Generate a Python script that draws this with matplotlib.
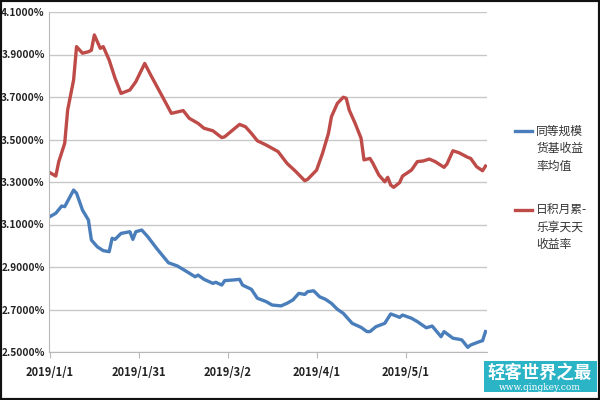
import numpy as np
import matplotlib
matplotlib.use("Agg")
import matplotlib.pyplot as plt
from matplotlib.patches import Rectangle

plt.rcParams['font.family'] = ['Noto Sans CJK SC', 'DejaVu Sans']

# ---- data (day offset from 2019-01-01, value in %) ----
red_days = [0, 2, 3, 5, 6, 8, 9, 11, 13, 14, 15, 17, 18, 20, 22, 24, 27, 29, 32, 34,
            38, 41, 45, 47, 50, 52, 55, 58, 59, 62, 64, 66, 68, 70, 73, 77, 80, 83, 86, 87,
            90, 92, 94, 95, 97, 99, 100, 101, 103, 105, 106, 108, 109, 111, 113, 114, 115, 116,
            118, 119, 122, 124, 126, 128, 130, 133, 134, 136, 138, 141, 142, 144, 146, 147]
red_vals = [3.344, 3.328, 3.396, 3.482, 3.639, 3.780, 3.937, 3.906, 3.913, 3.920, 3.992, 3.929,
            3.937, 3.874, 3.788, 3.717, 3.733, 3.772, 3.858, 3.804,
            3.701, 3.623, 3.636, 3.600, 3.576, 3.553, 3.541, 3.509, 3.513, 3.548, 3.571, 3.560,
            3.529, 3.494, 3.474, 3.443, 3.388, 3.349, 3.306, 3.313,
            3.356, 3.435, 3.529, 3.607, 3.670, 3.699, 3.694, 3.639, 3.576, 3.506, 3.404, 3.411,
            3.388, 3.333, 3.301, 3.322, 3.286, 3.275,
            3.297, 3.328, 3.356, 3.396, 3.399, 3.408, 3.396, 3.369, 3.385, 3.447, 3.438, 3.416,
            3.411, 3.372, 3.353, 3.375]

blue_days = [0, 2, 4, 5, 8, 9, 11, 13, 14, 16, 18, 20, 21, 22, 24, 27, 28, 29, 31, 33,
             36, 40, 43, 46, 49, 50, 52, 55, 56, 58, 59, 62, 64, 65, 68, 70, 73, 75, 78, 80,
             82, 84, 86, 87, 89, 91, 93, 95, 97, 99, 102, 105, 107, 108, 110, 113, 115, 117,
             118, 119, 122, 124, 127, 129, 132, 133, 136, 138, 139, 141, 142, 145, 146, 147]
blue_vals = [3.137, 3.153, 3.187, 3.184, 3.262, 3.247, 3.168, 3.121, 3.027, 2.995, 2.977, 2.972,
             3.035, 3.030, 3.058, 3.066, 3.030, 3.066, 3.074, 3.043,
             2.988, 2.920, 2.905, 2.880, 2.854, 2.862, 2.842, 2.823, 2.828, 2.815, 2.836, 2.839,
             2.842, 2.815, 2.795, 2.753, 2.737, 2.721, 2.717, 2.729,
             2.745, 2.776, 2.771, 2.784, 2.788, 2.760, 2.748, 2.729, 2.701, 2.682, 2.635, 2.616,
             2.596, 2.596, 2.619, 2.635, 2.679, 2.669,
             2.663, 2.674, 2.659, 2.643, 2.614, 2.622, 2.572, 2.596, 2.565, 2.560, 2.557, 2.522,
             2.533, 2.549, 2.553, 2.596]

x_ticks = [0, 30, 60, 90, 120]
x_tick_labels = ["2019/1/1", "2019/1/31", "2019/3/2", "2019/4/1", "2019/5/1"]
y_ticks = [2.5, 2.7, 2.9, 3.1, 3.3, 3.5, 3.7, 3.9, 4.1]
blue_label = "同等规模\n货基收益\n率均值"
red_label = "日积月累-\n乐享天天\n收益率"

fig = plt.figure(figsize=(6, 4), dpi=100)
ax = fig.add_axes([49/600, 1-352/400, (487-49)/600, (352-12)/400])

ax.plot(blue_days, blue_vals, color="#4a7ebb", lw=2.4, label=blue_label, solid_joinstyle="round")
ax.plot(red_days, red_vals, color="#be4b48", lw=2.4, label=red_label, solid_joinstyle="round")

ax.set_xlim(-0.3, 147.5)
ax.set_ylim(2.5, 4.1)
ax.set_yticks(y_ticks)
ax.set_yticklabels([f"{v:.4f}%" for v in y_ticks], fontsize=7.3, fontweight="bold", color="#222222")
ax.set_xticks(x_ticks)
ax.set_xticklabels(x_tick_labels, fontsize=8, fontweight="bold", color="#222222")
ax.grid(axis="y", color="#c8c8c8", lw=1.0)
ax.set_axisbelow(True)
for s in ["top", "right"]:
    ax.spines[s].set_visible(False)
ax.spines["left"].set_color("#b8b8b8")
ax.spines["bottom"].set_color("#b8b8b8")
ax.tick_params(axis="y", length=0, pad=3)
ax.tick_params(axis="x", length=4, color="#b8b8b8", direction="out", pad=6)

leg = ax.legend(loc="upper left", bbox_to_anchor=(1.04, 0.7), frameon=False,
                fontsize=8.5, handlelength=1.4, handletextpad=0.4, labelspacing=2.6)
for t in leg.get_texts():
    t.set_color("#333333")
    t.set_linespacing(1.45)
# align handles with the first text line, as in the reference
for h in leg.legend_handles:
    yd = np.asarray(h.get_ydata(), dtype=float)
    h.set_ydata(yd + 13.0)

# image frame
fig.patches.append(Rectangle((0, 0), 1, 1, transform=fig.transFigure, fill=False,
                             edgecolor="#111111", lw=3))

# watermark
fig.patches.append(Rectangle((484/600, 1-392/400), 113/600, 31/400, transform=fig.transFigure,
                             facecolor="#2bb3c6", edgecolor="none"))
fig.text(540/600, 1-373/400, "轻客世界之最", color="white", fontsize=12.5, fontweight="bold",
         ha="center", va="center")
fig.text(540/600, 1-387/400, "www.qingkey.com", color="white", fontsize=6.5,
         family="DejaVu Serif", ha="center", va="center")

fig.savefig("out.png", dpi=100)
